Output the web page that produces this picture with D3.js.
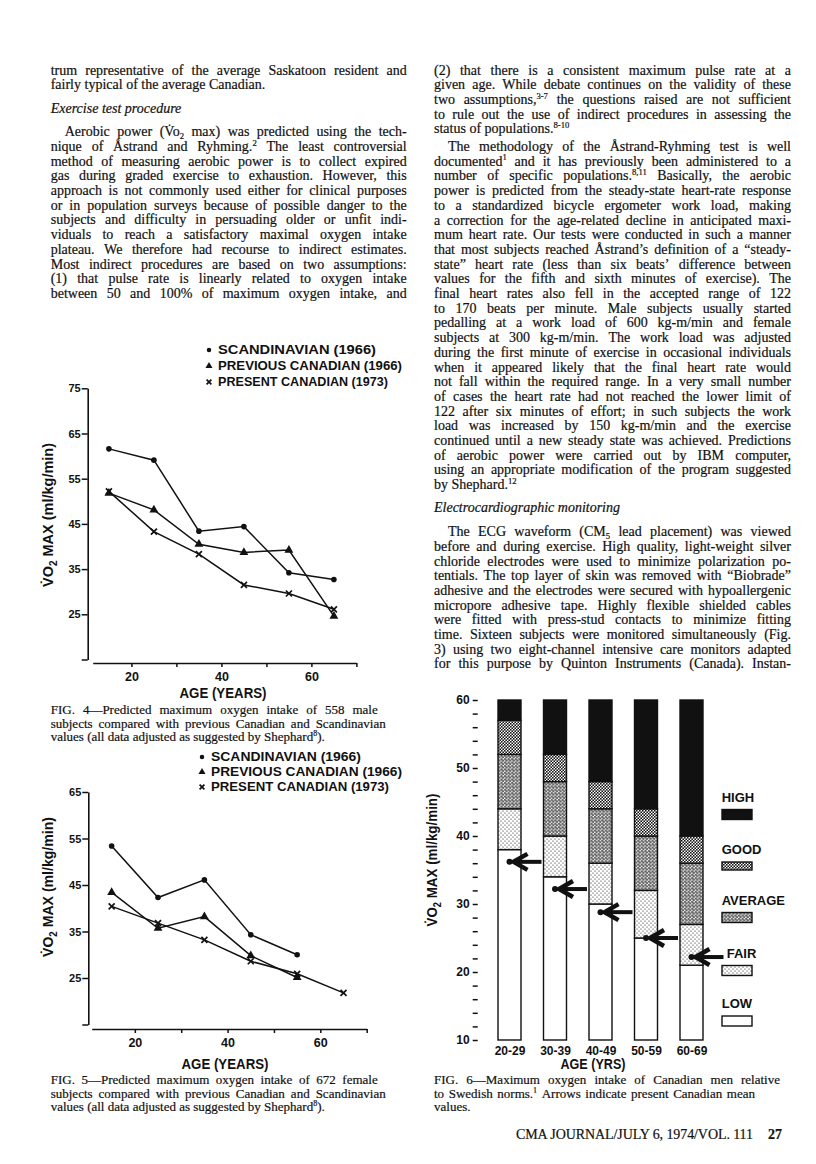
<!DOCTYPE html>
<html>
<head>
<meta charset="utf-8">
<script src="https://cdn.jsdelivr.net/npm/d3@7"></script>
<style>
  body { margin: 0; background: #fff; }
  svg { display: block; }
</style>
</head>
<body>
<svg id="page" width="816" height="1164"></svg>
<script>
// ---- data ----
const ages = [15, 25, 35, 45, 55, 65];
const seriesNames = ["SCANDINAVIAN (1966)", "PREVIOUS CANADIAN (1966)", "PRESENT CANADIAN (1973)"];

// Fig. 4, men
const maleScandinavian = [61.6, 59.1, 43.4, 44.4, 34.2, 32.7];
const malePrevious = [51.8, 48.1, 40.5, 38.7, 39.2, 24.6];
const malePresent = [52.2, 43.3, 38.3, 31.5, 29.6, 26.1];

// Fig. 5, women (Scandinavian and previous stop at 55)
const femaleScandinavian = [53.4, 42.3, 46.1, 34.3, 30.0];
const femalePrevious = [43.4, 35.7, 38.2, 29.8, 25.1];
const femalePresent = [40.4, 36.8, 33.2, 28.6, 25.9, 21.8];

// Fig. 6, Swedish norms for men, top of each band
const ageGroups = ["20-29", "30-39", "40-49", "50-59", "60-69"];
const normLevels = ["LOW", "FAIR", "AVERAGE", "GOOD", "HIGH"];
const lowTop = [38, 34, 30, 25, 21];
const fairTop = [44, 40, 36, 32, 27];
const averageTop = [52, 48, 44, 40, 36];
const goodTop = [57, 52, 48, 44, 40];
const canadianMeans = [36.2, 32.2, 28.8, 25.0, 22.2];

// ---- body text ----
const leftColumn = [
  { lines: ["trum representative of the average Saskatoon resident and",
            "fairly typical of the average Canadian."] },
  { heading: "Exercise test procedure" },
  { indent: true, cont: true, lines: [
    "Aerobic power (V\u0307o_{2} max) was predicted using the tech-",
    "nique of Åstrand and Ryhming.^{2} The least controversial",
    "method of measuring aerobic power is to collect expired",
    "gas during graded exercise to exhaustion. However, this",
    "approach is not commonly used either for clinical purposes",
    "or in population surveys because of possible danger to the",
    "subjects and difficulty in persuading older or unfit indi-",
    "viduals to reach a satisfactory maximal oxygen intake",
    "plateau. We therefore had recourse to indirect estimates.",
    "Most indirect procedures are based on two assumptions:",
    "(1) that pulse rate is linearly related to oxygen intake",
    "between 50 and 100% of maximum oxygen intake, and"] }
];
const rightColumn = [
  { lines: [
    "(2) that there is a consistent maximum pulse rate at a",
    "given age. While debate continues on the validity of these",
    "two assumptions,^{3-7} the questions raised are not sufficient",
    "to rule out the use of indirect procedures in assessing the",
    "status of populations.^{8-10}"] },
  { indent: true, lines: [
    "The methodology of the Åstrand-Ryhming test is well",
    "documented^{1} and it has previously been administered to a",
    "number of specific populations.^{8,11} Basically, the aerobic",
    "power is predicted from the steady-state heart-rate response",
    "to a standardized bicycle ergometer work load, making",
    "a correction for the age-related decline in anticipated maxi-",
    "mum heart rate. Our tests were conducted in such a manner",
    "that most subjects reached Åstrand’s definition of a “steady-",
    "state” heart rate (less than six beats’ difference between",
    "values for the fifth and sixth minutes of exercise). The",
    "final heart rates also fell in the accepted range of 122",
    "to 170 beats per minute. Male subjects usually started",
    "pedalling at a work load of 600 kg-m/min and female",
    "subjects at 300 kg-m/min. The work load was adjusted",
    "during the first minute of exercise in occasional individuals",
    "when it appeared likely that the final heart rate would",
    "not fall within the required range. In a very small number",
    "of cases the heart rate had not reached the lower limit of",
    "122 after six minutes of effort; in such subjects the work",
    "load was increased by 150 kg-m/min and the exercise",
    "continued until a new steady state was achieved. Predictions",
    "of aerobic power were carried out by IBM computer,",
    "using an appropriate modification of the program suggested",
    "by Shephard.^{12}"] },
  { heading: "Electrocardiographic monitoring" },
  { indent: true, cont: true, lines: [
    "The ECG waveform (CM_{5} lead placement) was viewed",
    "before and during exercise. High quality, light-weight silver",
    "chloride electrodes were used to minimize polarization po-",
    "tentials. The top layer of skin was removed with “Biobrade”",
    "adhesive and the electrodes were secured with hypoallergenic",
    "micropore adhesive tape. Highly flexible shielded cables",
    "were fitted with press-stud contacts to minimize fitting",
    "time. Sixteen subjects were monitored simultaneously (Fig.",
    "3) using two eight-channel intensive care monitors adapted",
    "for this purpose by Quinton Instruments (Canada). Instan-"] }
];
const fig4Caption = ["FIG. 4—Predicted maximum oxygen intake of 558 male",
  "subjects compared with previous Canadian and Scandinavian",
  "values (all data adjusted as suggested by Shephard^{8})."];
const fig5Caption = ["FIG. 5—Predicted maximum oxygen intake of 672 female",
  "subjects compared with previous Canadian and Scandinavian",
  "values (all data adjusted as suggested by Shephard^{8})."];
const fig6Caption = ["FIG. 6—Maximum oxygen intake of Canadian men relative",
  "to Swedish norms.^{1} Arrows indicate present Canadian mean",
  "values."];

const ink = "#111";
const svg = d3.select("#page");
svg.append("rect").attr("width", 816).attr("height", 1164).attr("fill", "#fff");
const textG = svg.append("g")
  .attr("font-family", "'Liberation Serif', 'Times New Roman', serif")
  .attr("fill", ink).attr("stroke", ink).attr("stroke-width", 0.2);

// a word, with ^{..} superscripts and _{..} subscripts
function richWord(g, word, y, size, style) {
  const t = g.append("text").attr("y", y).attr("font-size", size);
  if (style) t.attr("font-style", style);
  let shift = 0;
  word.split(/(\^\{[^}]*\}|_\{[^}]*\})/).filter(s => s.length).forEach(p => {
    let txt = p, target = 0, small = false;
    if (p.startsWith("^{")) { txt = p.slice(2, -1); target = -size * 0.38; small = true; }
    else if (p.startsWith("_{")) { txt = p.slice(2, -1); target = size * 0.2; small = true; }
    const ts = t.append("tspan").attr("dy", target - shift).text(txt);
    if (small) ts.attr("font-size", size * 0.62);
    shift = target;
  });
  return t;
}

function setLine(g, line, x0, y, width, justify, size, style) {
  const words = line.split(" ");
  const lg = g.append("g");
  const nodes = words.map(w => richWord(lg, w, y, size, style));
  const widths = nodes.map(n => n.node().getComputedTextLength());
  const total = d3.sum(widths);
  const gap = justify && words.length > 1 ? (width - total) / (words.length - 1) : size * 0.25;
  if (justify && gap < size * 0.17) {   // too tight: set the line a touch smaller
    lg.remove();
    return setLine(g, line, x0, y, width, justify, size * 0.97, style);
  }
  let x = x0;
  nodes.forEach((n, i) => { n.attr("x", x); x += widths[i] + gap; });
}

const bodySize = 14;
function setColumn(blocks, x0, width, y) {
  blocks.forEach((b, bi) => {
    if (b.heading) {
      if (bi) y += 8.6;
      setLine(textG, b.heading, x0, y, width, false, bodySize, "italic");
      y += 23.7;
      return;
    }
    if (bi && !blocks[bi - 1].heading) y += 3;
    b.lines.forEach((ln, i) => {
      const last = i === b.lines.length - 1 && !b.cont;
      const ind = (i === 0 && b.indent) ? 14 : 0;
      setLine(textG, ln, x0 + ind, y, width - ind, !last, bodySize);
      y += 14.7;
    });
  });
}
setColumn(leftColumn, 50.7, 356, 74.5);
setColumn(rightColumn, 434, 357, 74.5);

function setCaption(lines, x0, y, widths) {
  lines.forEach((ln, i) => {
    setLine(textG, ln, x0, y + i * 13.7, widths[i] || 0, !!widths[i], 13);
  });
}
setCaption(fig4Caption, 50.7, 714, [327, 335]);
setCaption(fig5Caption, 50.7, 1084, [327, 335]);
setCaption(fig6Caption, 434, 1084, [346, 321]);

// running foot
textG.append("text").attr("x", 516).attr("y", 1138.5).attr("font-size", 14)
  .attr("textLength", 237).text("CMA JOURNAL/JULY 6, 1974/VOL. 111");
textG.append("text").attr("x", 768).attr("y", 1138.5).attr("font-size", 14)
  .attr("font-weight", "bold").text("27");

// ---- line charts (Figs 4 and 5) ----
const sans = "'Liberation Sans', Arial, sans-serif";

function marker(g, kind, x, y, scale) {
  if (kind === 0) {
    g.append("circle").attr("cx", x).attr("cy", y).attr("r", 2.8 * scale).attr("fill", ink);
  } else if (kind === 1) {
    g.append("path").attr("transform", `translate(${x},${y})`)
      .attr("d", d3.symbol(d3.symbolTriangle, 34 * scale * scale)()).attr("fill", ink);
  } else {
    const s = 3 * scale;
    g.append("path").attr("d", `M${x - s},${y - s}L${x + s},${y + s}M${x - s},${y + s}L${x + s},${y - s}`)
      .attr("stroke", ink).attr("stroke-width", 1.7).attr("fill", "none");
  }
}

function yTitle(g, cx, cy, len) {
  const t = g.append("text").attr("transform", `translate(${cx},${cy}) rotate(-90)`)
    .attr("text-anchor", "middle").attr("font-family", sans).attr("font-weight", "bold")
    .attr("font-size", 14.5).attr("fill", ink).attr("textLength", len)
    .attr("lengthAdjust", "spacingAndGlyphs");
  t.append("tspan").text("V\u0307O");
  t.append("tspan").attr("font-size", 10).attr("dy", 4).text("2");
  t.append("tspan").attr("dy", -4).text(" MAX (ml/kg/min)");
}

function styleAxis(a, size) {
  a.select(".domain").attr("stroke", ink).attr("stroke-width", 1.6);
  a.selectAll(".tick line").attr("stroke", ink).attr("stroke-width", 1.5);
  a.selectAll(".tick text").attr("fill", ink).attr("font-family", sans)
    .attr("font-weight", "bold").attr("font-size", size);
}

function lineChart(cfg) {
  const g = svg.append("g");
  const x = d3.scaleLinear().domain(cfg.xDomain).range(cfg.xRange);
  const y = d3.scaleLinear().domain(cfg.yDomain).range(cfg.yRange);

  const ya = g.append("g").attr("transform", `translate(${cfg.yAxisX},0)`)
    .call(d3.axisLeft(y).tickValues(d3.range(cfg.yDomain[0], cfg.yDomain[1] + 1, 10))
      .tickFormat(d => d === cfg.yDomain[0] ? "" : d).tickSize(6).tickSizeOuter(0).tickPadding(1));
  styleAxis(ya, 11);
  const xa = g.append("g").attr("transform", `translate(0,${cfg.xAxisY})`)
    .call(d3.axisBottom(x).tickValues([20, 30, 40, 50, 60, 70])
      .tickFormat(d => d % 20 ? "" : d).tickSize(4).tickSizeOuter(0).tickPadding(5));
  styleAxis(xa, 12.5);

  g.append("text").attr("x", cfg.xTitle[0]).attr("y", cfg.xTitle[1]).attr("text-anchor", "middle")
    .attr("font-family", sans).attr("font-weight", "bold").attr("font-size", 14).attr("fill", ink)
    .attr("textLength", 87).attr("lengthAdjust", "spacingAndGlyphs").text("AGE (YEARS)");
  yTitle(g, cfg.yTitle[0], cfg.yTitle[1], cfg.yTitle[2]);

  const line = d3.line().x((d, i) => x(ages[i])).y(d => y(d));
  cfg.series.forEach((vals, k) => {
    g.append("path").attr("d", line(vals)).attr("fill", "none")
      .attr("stroke", ink).attr("stroke-width", 1.5);
    vals.forEach((v, i) => marker(g, k, x(ages[i]), y(v), 1));
  });

  // legend
  seriesNames.forEach((name, k) => {
    const ly = cfg.legend.y + k * cfg.legend.step;
    marker(g, k, cfg.legend.x, ly, 0.8);
    g.append("text").attr("x", cfg.legend.x + 9).attr("y", ly + 4.4)
      .attr("font-family", sans).attr("font-weight", "bold").attr("font-size", 12.5)
      .attr("fill", ink).attr("textLength", cfg.legend.widths[k])
      .attr("lengthAdjust", "spacingAndGlyphs").text(name);
  });
}

lineChart({
  xDomain: [11.4, 70], xRange: [92.7, 356.4],
  yDomain: [15, 75], yRange: [659.5, 388.3],
  yAxisX: 87.7, xAxisY: 663,
  xTitle: [223, 698], yTitle: [53, 515, 144],
  series: [maleScandinavian, malePrevious, malePresent],
  legend: { x: 209, y: 350, step: 16, widths: [158, 184, 170] }
});
lineChart({
  xDomain: [10.7, 70], xRange: [91.7, 366.7],
  yDomain: [15, 65], yRange: [1024.5, 792],
  yAxisX: 88.3, xAxisY: 1029,
  xTitle: [225, 1068.5], yTitle: [53, 887, 140],
  series: [femaleScandinavian, femalePrevious, femalePresent],
  legend: { x: 202, y: 757, step: 15, widths: [150, 191, 178] }
});

// ---- Fig. 6 stacked norm bars ----
const defs = svg.append("defs");
const fair = defs.append("pattern").attr("id", "fair").attr("patternUnits", "userSpaceOnUse")
  .attr("width", 4).attr("height", 4);
fair.append("rect").attr("width", 4).attr("height", 4).attr("fill", "#fff");
[[1, 1], [3, 3]].forEach(p => fair.append("circle").attr("cx", p[0]).attr("cy", p[1]).attr("r", 0.6).attr("fill", ink));
const avg = defs.append("pattern").attr("id", "average").attr("patternUnits", "userSpaceOnUse")
  .attr("width", 3.6).attr("height", 3.4);
avg.append("rect").attr("width", 3.6).attr("height", 3.4).attr("fill", "#fff");
[[0.9, 0.85], [2.7, 2.55]].forEach(p => avg.append("circle").attr("cx", p[0]).attr("cy", p[1])
  .attr("r", 0.95).attr("fill", "#fff").attr("stroke", ink).attr("stroke-width", 0.75));
const good = defs.append("pattern").attr("id", "good").attr("patternUnits", "userSpaceOnUse")
  .attr("width", 3).attr("height", 3);
good.append("rect").attr("width", 3).attr("height", 3).attr("fill", "#fff");
[[0.75, 0.75], [2.25, 2.25]].forEach(p => good.append("circle").attr("cx", p[0]).attr("cy", p[1]).attr("r", 0.9).attr("fill", ink));
const levelFill = { LOW: "#fff", FAIR: "url(#fair)", AVERAGE: "url(#average)", GOOD: "url(#good)", HIGH: ink };

const g6 = svg.append("g");
const y6 = d3.scaleLinear().domain([10, 60]).range([1040, 700]);
const x6 = d3.scalePoint().domain(ageGroups).range([509.5, 691.5]);
const barW = 23;

const ya6 = g6.append("g").attr("transform", "translate(477.7,0)")
  .call(d3.axisLeft(y6).tickValues(d3.range(10, 61, 2)).tickFormat(d => d % 10 ? "" : d)
    .tickSize(5).tickSizeOuter(0).tickPadding(3));
ya6.select(".domain").remove();
styleAxis(ya6, 12);
const xa6 = g6.append("g").attr("transform", "translate(0,1042)")
  .call(d3.axisBottom(x6).tickSize(0).tickPadding(4));
xa6.select(".domain").remove();
styleAxis(xa6, 12);

ageGroups.forEach((grp, i) => {
  const bounds = [10, lowTop[i], fairTop[i], averageTop[i], goodTop[i], 60];
  const cx = x6(grp);
  normLevels.forEach((lvl, k) => {
    g6.append("rect").attr("x", cx - barW / 2).attr("width", barW)
      .attr("y", y6(bounds[k + 1])).attr("height", y6(bounds[k]) - y6(bounds[k + 1]))
      .attr("fill", levelFill[lvl]).attr("stroke", ink).attr("stroke-width", 1.4);
  });
  // arrow for present Canadian mean
  const cy = y6(canadianMeans[i]);
  g6.append("line").attr("x1", cx + 4).attr("x2", cx + 32).attr("y1", cy).attr("y2", cy)
    .attr("stroke", ink).attr("stroke-width", 4);
  g6.append("path").attr("d", `M${cx + 18},${cy - 8}L${cx + 4},${cy}L${cx + 18},${cy + 8}`)
    .attr("fill", "none").attr("stroke", ink).attr("stroke-width", 4.5);
  g6.append("circle").attr("cx", cx).attr("cy", cy).attr("r", 3).attr("fill", ink);
});

g6.append("text").attr("x", 593).attr("y", 1069).attr("text-anchor", "middle")
  .attr("font-family", sans).attr("font-weight", "bold").attr("font-size", 14).attr("fill", ink)
  .attr("textLength", 65).attr("lengthAdjust", "spacingAndGlyphs").text("AGE (YRS)");
yTitle(g6, 437, 860, 133);

// legend, HIGH at top
const legendRows = normLevels.slice().reverse();
const legendY = [801.5, 854, 904.5, 957.5, 1008];
legendRows.forEach((lvl, k) => {
  g6.append("text").attr("x", lvl === "FAIR" ? 726.7 : 721.7).attr("y", legendY[k])
    .attr("font-family", sans).attr("font-weight", "bold").attr("font-size", 13).attr("fill", ink)
    .text(lvl);
  g6.append("rect").attr("x", 722).attr("y", legendY[k] + 8).attr("width", 30)
    .attr("height", lvl === "GOOD" ? 8 : 10).attr("fill", levelFill[lvl])
    .attr("stroke", ink).attr("stroke-width", 1.4);
});
</script>
</body>
</html>
